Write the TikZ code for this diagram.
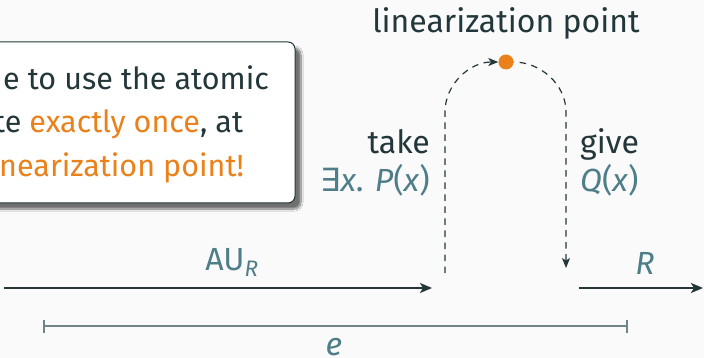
\documentclass[tikz,border=0pt]{standalone}
\usepackage{fontspec}
\setmainfont{Fira Sans}
\newfontfamily\symfont{DejaVu Sans}
\usetikzlibrary{arrows.meta,shadows.blur}
\definecolor{dteal}{HTML}{23373B}
\definecolor{morange}{HTML}{EB811B}
\definecolor{mteal}{HTML}{4E7E88}
\definecolor{mgrey}{HTML}{6F8586}
\definecolor{bgcol}{HTML}{FAFAFA}
\tikzset{
  txt/.style={inner sep=0pt, text=dteal},
  mtxt/.style={inner sep=0pt, text=mteal},
  boxtxt/.style={inner sep=0pt, text=dteal, font=\fontsize{30.5}{43}\selectfont},
  mainarrow/.style={draw=dteal, line width=1.8pt, -{Stealth[length=12pt,width=10pt,inset=3pt]}},
  dasharrow/.style={draw=dteal, line width=1.2pt, dash pattern=on 6.5pt off 5.5pt, -{Stealth[length=10pt,width=8pt,inset=2.5pt]}},
  calloutbox/.style={draw=dteal, line width=1pt, rounded corners=7pt, fill=white, minimum width=340pt, minimum height=161pt, inner sep=0pt,
    blur shadow={shadow xshift=6pt, shadow yshift=-6pt, shadow blur steps=10, shadow opacity=55}},
  measure/.style={draw=mgrey, line width=1.8pt, {Bar[width=13pt,line width=1.8pt]}-{Bar[width=13pt,line width=1.8pt]}},
}
\begin{document}
\begin{tikzpicture}[x=1pt,y=-1pt, font=\fontsize{32}{43}\selectfont]
\fill[bgcol] (0,0) rectangle (704,358);
\useasboundingbox (0,0) rectangle (704,358);
\clip (0,0) rectangle (704,358);
% callout
\node[calloutbox] (box) at (125,122.5) {};
\node[boxtxt, anchor=base west] (l1) at (3,90) {e to use the atomic};
\node[boxtxt, anchor=base west] (l2) at (-6,133) {te \textcolor{morange}{exactly once}, at};
\node[boxtxt, anchor=base west, text=morange] (l3) at (-1,177) {nearization point!};
% linearization point
\node[txt, anchor=base] (lp) at (506,33) {linearization point};
\fill[morange] (506,62) circle (7.5pt);
\node[inner sep=0pt, minimum size=15pt, circle] (dot) at (506,62) {};
% labels
\node[txt, anchor=base east] (take) at (430,154) {take};
\node[mtxt, anchor=base east] (pre) at (430,192) {{\symfont ∃}\textit{x}. \textit{P}(\textit{x})};
\node[txt, anchor=base west] (give) at (580,154) {give};
\node[mtxt, anchor=base west] (post) at (580,192) {\textit{Q}(\textit{x})};
% dashed paths
\coordinate (ls) at (445,273);
\coordinate (lc) at (445,112);
\coordinate (rc) at (566,112);
\coordinate (re) at (566,268);
\draw[dasharrow] (ls) -- (lc) .. controls (445,84) and (470,62) .. (dot.west);
\draw[dasharrow, dash phase=6pt] (dot.east) .. controls (540,62) and (566,84) .. (rc) -- (re);
% main arrows
\coordinate (a0) at (4,288);
\coordinate (a1) at (432,288);
\coordinate (b0) at (579,288);
\coordinate (b1) at (703,288);
\draw[mainarrow] (a0) -- (a1);
\draw[mainarrow] (b0) -- (b1);
\node[mtxt, anchor=base] (au) at (232,270) {AU\textsubscript{\textit{R}}};
\node[mtxt, anchor=base] (rlab) at (645,274) {\textit{R}};
% measurement
\coordinate (m0) at (43,326);
\coordinate (m1) at (628,326);
\draw[measure] (m0) -- (m1);
\node[mtxt, anchor=base] (elab) at (334,355) {\textit{e}};
\end{tikzpicture}
\end{document}
